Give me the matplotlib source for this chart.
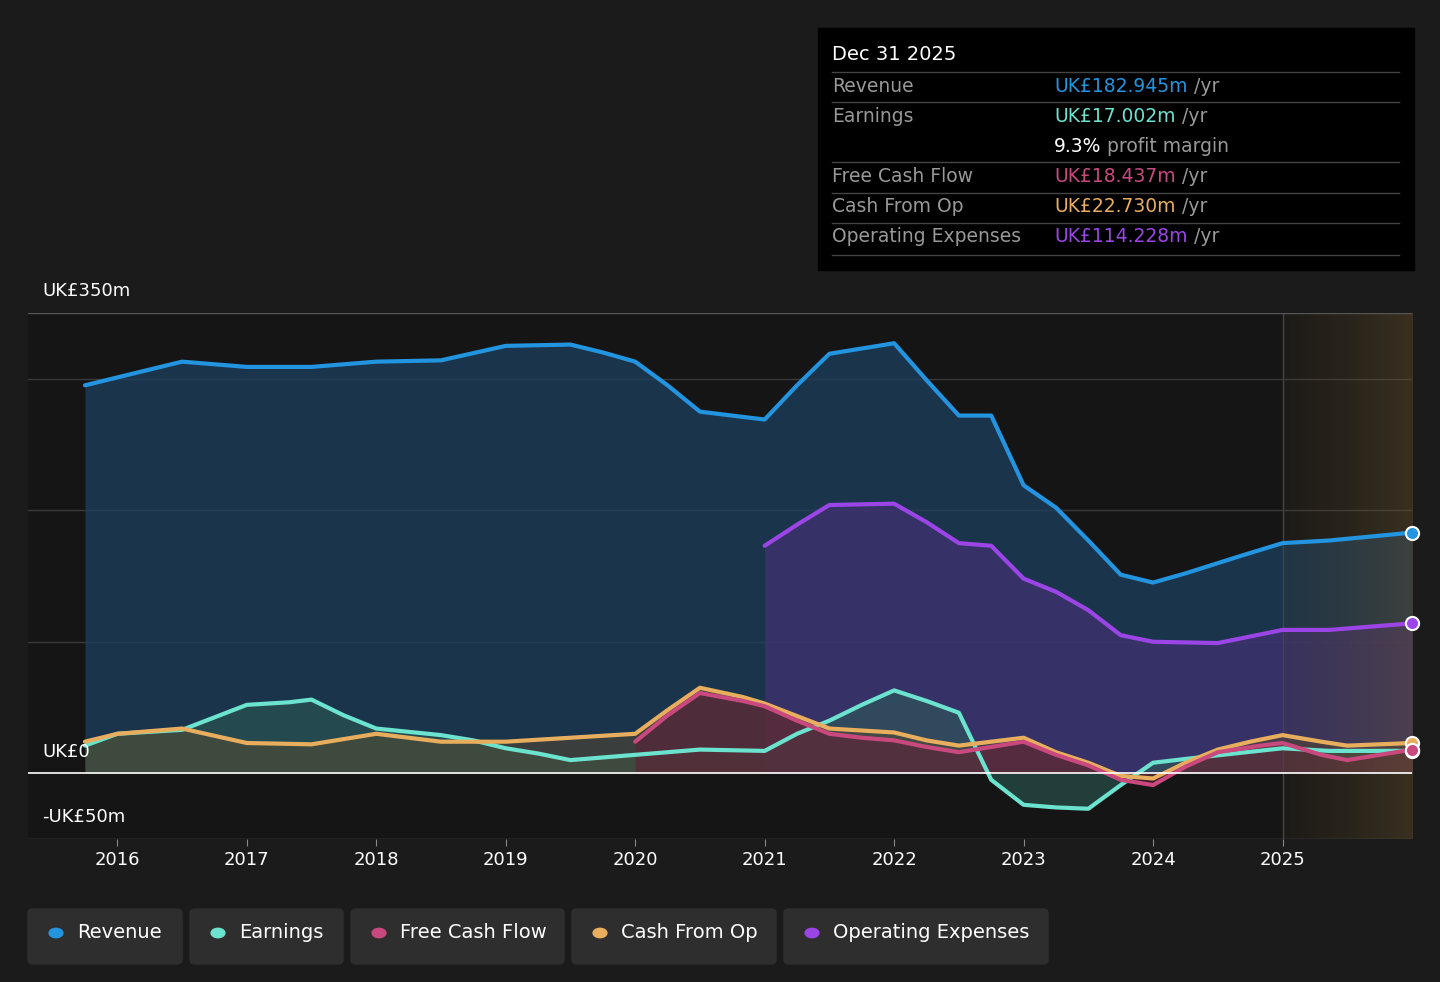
import matplotlib
matplotlib.use("Agg")
import matplotlib.pyplot as plt
import numpy as np
from matplotlib.patches import FancyBboxPatch, Rectangle

rev_x = [2015.75,2016,2016.25,2016.5,2017,2017.5,2018,2018.5,2019,2019.5,2019.75,2020,2020.25,2020.5,2020.83,2021,2021.25,2021.5,2021.75,2022,2022.25,2022.5,2022.75,2023,2023.25,2023.5,2023.75,2024,2024.25,2024.7,2025,2025.36,2026]
rev_y = [295,301,307,313,309,309,313,314,325,326,320,313,295,275,271,269,295,319,323,327,299,272,272,219,202,177,151,145,152,166,175,177,183]
earn_x = [2015.75,2016,2016.5,2017,2017.33,2017.5,2017.75,2018,2018.5,2018.75,2019,2019.25,2019.5,2020,2020.5,2021,2021.25,2021.5,2021.75,2022,2022.25,2022.5,2022.75,2023,2023.25,2023.5,2023.75,2024,2024.35,2025,2025.36,2026]
earn_y = [21,30,33,52,54,56,44,34,29,25,19,15,10,14,18,17,30,40,52,63,55,46,-5,-24,-26,-27,-9,8,12,19,17,17]
fcf_x = [2020,2020.25,2020.5,2020.83,2021,2021.25,2021.5,2021.75,2022,2022.25,2022.5,2023,2023.25,2023.5,2023.75,2024,2024.25,2024.5,2024.83,2025,2025.3,2025.5,2026]
fcf_y = [24,44,61,55,51,40,30,27,25,20,16,24,14,6,-5,-9,5,16,21,23,14,10,18]
cfo_x = [2015.75,2016,2016.5,2017,2017.5,2018,2018.5,2019,2019.5,2020,2020.25,2020.5,2020.83,2021,2021.5,2022,2022.25,2022.5,2023,2023.25,2023.5,2023.75,2024,2024.25,2024.5,2024.75,2025,2025.3,2025.5,2026]
cfo_y = [24,30,34,23,22,30,24,24,27,30,48,65,58,53,34,31,25,21,27,16,8,-2,-4,8,18,24,29,24,21,23]
opex_x = [2021,2021.25,2021.5,2022,2022.25,2022.5,2022.75,2023,2023.25,2023.5,2023.75,2024,2024.5,2025,2025.36,2026]
opex_y = [173,189,204,205,191,175,173,148,138,124,105,100,99,109,109,114]

BG = "#1b1b1b"
fig = plt.figure(figsize=(14.4, 9.82), dpi=100, facecolor=BG)
ax = fig.add_axes([28/1440, 1-839/982, (1412-28)/1440, (839-313)/982])
ax.set_facecolor("#151515")
ax.set_xlim(2015.31, 2026.0)
ax.set_ylim(-50, 350)

series = [
    (rev_x, rev_y, "#2394df", "#1d3f5e", 0.75),
    (opex_x, opex_y, "#9b45e6", "#4a2f7a", 0.6),
    (earn_x, earn_y, "#6be3cf", "#2c5a55", 0.6),
    (cfo_x, cfo_y, "#e8ae5e", "#5a4a30", 0.5),
    (fcf_x, fcf_y, "#c9497f", "#5e2038", 0.6),
]
for x, y, lc, fc, a in series:
    ax.fill_between(x, y, 0, color=fc, alpha=a, lw=0, zorder=1)
for x, y, lc, fc, a in series:
    ax.plot(x, y, color=lc, lw=3, zorder=3, solid_capstyle="round")
    ax.scatter([x[-1]], [y[-1]], s=90, color=lc, edgecolor="white", lw=1.5, zorder=5, clip_on=False)

# forecast region
grad = np.linspace(0, 1, 100).reshape(1, -1)
ax.imshow(grad, extent=[2025, 2026, -50, 350], aspect="auto", cmap=matplotlib.colors.LinearSegmentedColormap.from_list("g", [(0.3,0.25,0.15,0.15),(0.4,0.32,0.18,0.45)]), zorder=2)
ax.axvline(2025, color="#444444", lw=1, zorder=2)

for v in [100, 200, 300]:
    ax.axhline(v, color="#3a3a3a", lw=1, zorder=0.5)
ax.axhline(350, color="#555555", lw=1)
ax.axhline(-50, color="#555555", lw=1)
ax.axhline(0, color="white", lw=1.2, zorder=4)

for s in ax.spines.values():
    s.set_visible(False)
ax.set_yticks([])
ax.set_xticks(range(2016, 2026))
ax.set_xticklabels([str(v) for v in range(2016, 2026)], color="white", fontsize=13)
ax.tick_params(axis="x", colors="#888888", length=5, labelcolor="white")

fig.text(42/1440, 1-291/982, "UK£350m", color="white", fontsize=13, va="center")
fig.text(42/1440, 1-752/982, "UK£0", color="white", fontsize=13, va="center")
fig.text(42/1440, 1-817/982, "-UK£50m", color="white", fontsize=13, va="center")

# tooltip
fig.patches.append(Rectangle((818/1440, 1-270/982), 596/1440, 242/982, transform=fig.transFigure, color="black"))
fig.text(832/1440, 1-55/982, "Dec 31 2025", color="white", fontsize=14, va="center")
rows = [("Revenue", "UK£182.945m", "#2394df", " /yr", 86),
        ("Earnings", "UK£17.002m", "#6be3cf", " /yr", 116),
        ("", "9.3%", "white", " profit margin", 146),
        ("Free Cash Flow", "UK£18.437m", "#c9497f", " /yr", 176),
        ("Cash From Op", "UK£22.730m", "#e8ae5e", " /yr", 207),
        ("Operating Expenses", "UK£114.228m", "#9b45e6", " /yr", 237)]
for lab, val, c, suf, yy in rows:
    if lab:
        fig.text(832/1440, 1-yy/982, lab, color="#999999", fontsize=13.5, va="center")
    t = fig.text(1054/1440, 1-yy/982, val, color=c, fontsize=13.5, va="center")
    fig.canvas.draw()
    bb = t.get_window_extent()
    fig.text(bb.x1/1440, 1-yy/982, suf, color="#999999", fontsize=13.5, va="center")
for yy in [72, 102, 162, 193, 223, 255]:
    fig.lines.append(plt.Line2D([832/1440, 1399/1440], [1-yy/982]*2, transform=fig.transFigure, color="#444444", lw=1))

# legend buttons
legs = [("Revenue", "#2394df", 28, 182), ("Earnings", "#6be3cf", 190, 343), ("Free Cash Flow", "#c9497f", 351, 564),
        ("Cash From Op", "#e8ae5e", 572, 776), ("Operating Expenses", "#9b45e6", 784, 1048)]
for lab, c, x0, x1 in legs:
    fig.patches.append(FancyBboxPatch((x0/1440, 1-964/982), (x1-x0)/1440, 55/982, boxstyle="round,pad=0,rounding_size=0.004",
                                      transform=fig.transFigure, color="#2e2e2e"))
    fig.patches.append(plt.Circle(((x0+28)/1440, 1-933/982), 0.0048, transform=fig.transFigure, color=c))
    fig.text((x0+49)/1440, 1-933/982, lab, color="white", fontsize=14, va="center")

fig.savefig("out.png", dpi=100, facecolor=BG)
